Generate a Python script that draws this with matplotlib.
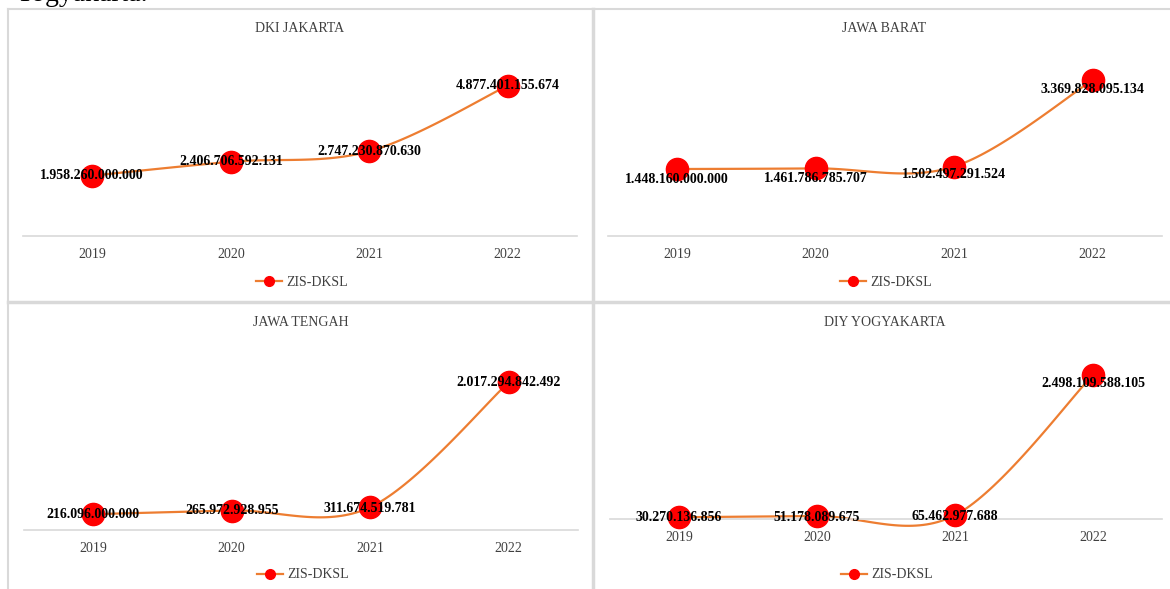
import numpy as np
import matplotlib
matplotlib.use('Agg')
import matplotlib.pyplot as plt
from matplotlib.lines import Line2D

plt.rcParams['font.family'] = ['Liberation Serif', 'DejaVu Serif']

# data
years = ['2019', '2020', '2021', '2022']
dki_jakarta = [1958260000000, 2406706592131, 2747230870630, 4877401155674]
jawa_barat = [1448160000000, 1461786785707, 1502497291524, 3369828095134]
jawa_tengah = [216096000000, 265972928955, 311674519781, 2017294842492]
diy_yogyakarta = [30270136856, 51178089675, 65462977688, 2498109588105]
titles = ['DKI JAKARTA', 'JAWA BARAT', 'JAWA TENGAH', 'DIY YOGYAKARTA']
series_name = 'ZIS-DKSL'

W, H = 1170, 589
LINE_C = '#ED7D31'
MARK_C = '#FF0000'
GRID_C = '#D9D9D9'
TEXT_C = '#404040'


def px_axes(fig, x0, x1, ytop, ybot):
    return fig.add_axes([x0 / W, 1 - ybot / H, (x1 - x0) / W, (ybot - ytop) / H])


def smooth(xs, ys, n=40):
    # excel-like smoothed line (catmull-rom bezier)
    p = np.column_stack([xs, ys]).astype(float)
    ext = np.vstack([p[0], p, p[-1]])
    out = []
    for i in range(len(p) - 1):
        p0, p3 = ext[i + 1], ext[i + 2]
        c1 = p0 + (ext[i + 2] - ext[i]) / 6
        c2 = p3 - (ext[i + 3] - ext[i + 1]) / 6
        t = np.linspace(0, 1, n)[:, None]
        seg = (1 - t) ** 3 * p0 + 3 * (1 - t) ** 2 * t * c1 + 3 * (1 - t) * t ** 2 * c2 + t ** 3 * p3
        out.append(seg)
    out = np.vstack(out)
    return out[:, 0], out[:, 1]


def fmt(v):
    return f'{v:,}'.replace(',', '.')


fig = plt.figure(figsize=(W / 100, H / 100), dpi=100)

# text from the document above the charts, mostly cut off
fig.text(15 / W, 1 - 1 / H, 'Yogyakarta.', fontsize=20, color='black', va='baseline', ha='left')

# panel frames
for xs, ys, lw in [((8, W), (9, 9), 1.5), ((8, 8), (9, H), 1.5),
                   ((593, 593), (9, H), 2.5), ((8, W), (302, 302), 2.5)]:
    fig.add_artist(Line2D([x / W for x in xs], [1 - y / H for y in ys],
                          color=GRID_C, lw=lw, transform=fig.transFigure))

# (series, title, x0, x1, ytop, ybot, ymax, title_x, title_y, legend_y, label_dy)
panels = [
    (dki_jakarta, titles[0], 23, 577, 51, 236, 6e12, 300, 28, 282, [0, 0, 0, 0]),
    (jawa_barat, titles[1], 608, 1162, 51, 236, 4e12, 884, 28, 282, [10, 10, 8, 9]),
    (jawa_tengah, titles[2], 24, 578, 347, 530, 2.5e12, 301, 323, 575, [0, 0, 1, 0]),
    (diy_yogyakarta, titles[3], 610, 1162, 346, 519, 3e12, 885, 323, 575, [0, 1, 1, 9]),
]

for vals, title, x0, x1, yt, yb, ymax, tx, ty, ly, dys in panels:
    ax = px_axes(fig, x0, x1, yt, yb)
    xi = np.arange(len(years))
    ax.set_xlim(-0.5, len(years) - 0.5)
    ax.set_ylim(0, ymax)
    sx, sy = smooth(xi, vals)
    ax.plot(sx, sy, color=LINE_C, lw=1.6, clip_on=False, zorder=2)
    ax.plot(xi, vals, ls='none', marker='o', ms=16, color=MARK_C, clip_on=False, zorder=3)
    for x, v, dy in zip(xi, vals, dys):
        ax.annotate(fmt(v), (x, v), xytext=(0, -dy * 0.72), textcoords='offset points',
                    ha='center', va='center', fontsize=10, fontweight='bold',
                    color='black', zorder=4, annotation_clip=False)
    ax.set_xticks(xi)
    ax.set_xticklabels(years, fontsize=10, color=TEXT_C)
    ax.tick_params(axis='x', length=0, pad=8.5)
    ax.set_yticks([])
    for s in ['top', 'left', 'right']:
        ax.spines[s].set_visible(False)
    ax.spines['bottom'].set_color(GRID_C)
    ax.spines['bottom'].set_linewidth(1.2)
    ax.patch.set_alpha(0)
    fig.text(tx / W, 1 - ty / H, title, fontsize=10, color=TEXT_C, ha='center', va='center')
    handle = Line2D([], [], color=LINE_C, lw=1.6, marker='o', ms=7, mfc=MARK_C, mec=MARK_C)
    ax.legend([handle], [series_name], loc='center', frameon=False, fontsize=10,
              bbox_to_anchor=((tx + 2) / W, 1 - ly / H), bbox_transform=fig.transFigure,
              handlelength=1.9, handletextpad=0.3, labelcolor=TEXT_C)

fig.savefig('out.png', dpi=100)
